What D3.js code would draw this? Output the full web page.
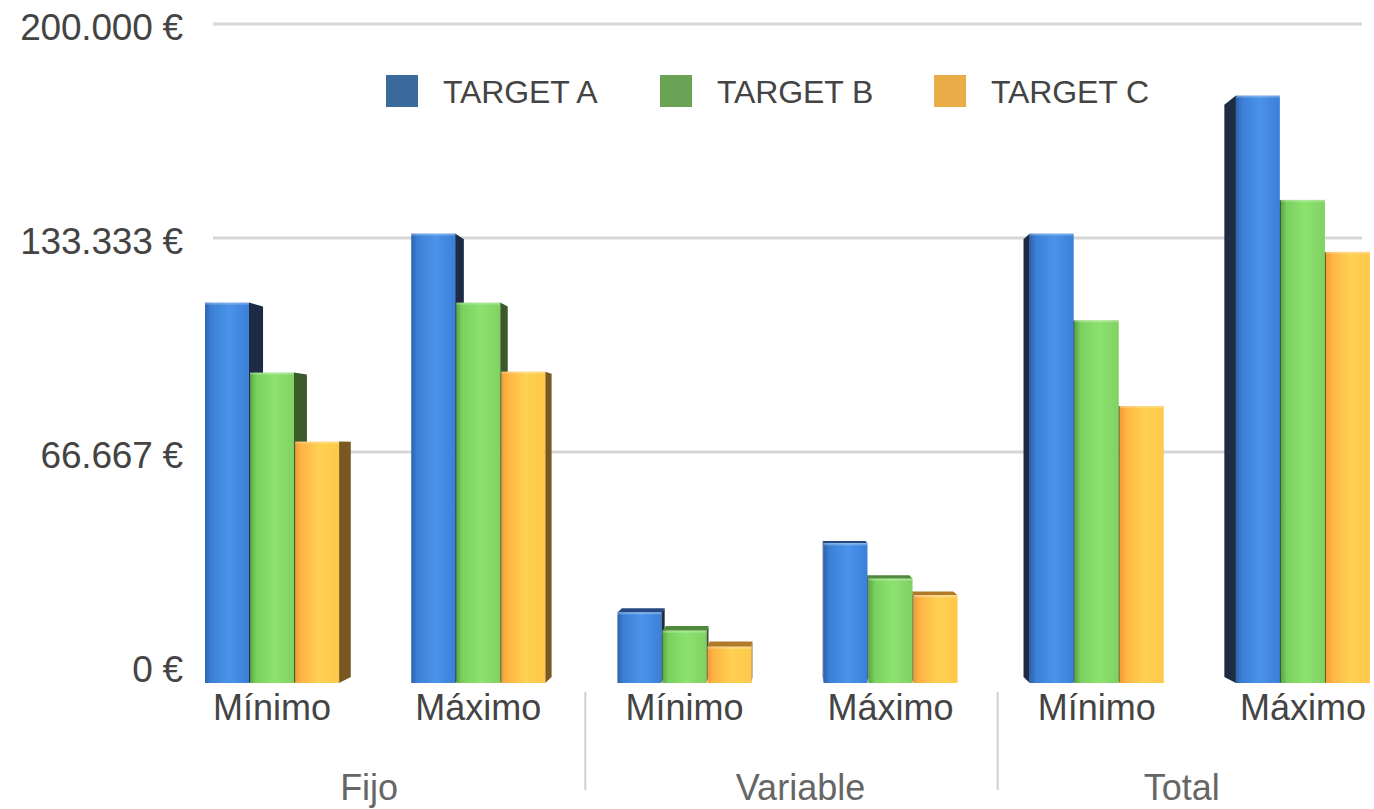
<!DOCTYPE html>
<html>
<head>
<meta charset="utf-8">
<script src="https://cdn.jsdelivr.net/npm/d3@7"></script>
<style>
  body { margin: 0; background: #fff; }
  text { font-family: "Liberation Sans", Arial, sans-serif; }
</style>
</head>
<body>
<svg id="chart"></svg>
<script>
// Dades
var groups = ["Fijo", "Variable", "Total"];
var subcats = ["Mínimo", "Máximo", "Mínimo", "Máximo", "Mínimo", "Máximo"];
var series = ["TARGET A", "TARGET B", "TARGET C"];
var targetA = [118500, 140000, 22000, 43500, 140000, 183000];
var targetB = [96700, 118500, 16300, 32500, 113000, 150500];
var targetC = [75200, 97000, 11300, 27300, 86300, 134300];
var yTicks = [0, 66667, 133333, 200000];
var yTickLabels = ["0 €", "66.667 €", "133.333 €", "200.000 €"];

var values = [targetA, targetB, targetC];

var width = 1374, height = 809;

var svg = d3.select("#chart").attr("width", width).attr("height", height);

var defs = svg.append("defs");

// Colors
var legendColors = ["#3a6a9c", "#6aa355", "#eaab48"];
var frontStops = [
  [["0%", "#2b63b0"], ["14%", "#3c80d6"], ["55%", "#4a92ea"], ["100%", "#3b80d8"]],
  [["0%", "#5aa844"], ["14%", "#7ad15f"], ["55%", "#8de26f"], ["100%", "#80d163"]],
  [["0%", "#f09c36"], ["14%", "#ffb443"], ["55%", "#ffd052"], ["100%", "#ffc848"]]
];
var sideColors = ["#1d2c44", "#3a5a2a", "#7a5822"];
var topColors = ["#244a86", "#4f8a3c", "#b07a28"];

frontStops.forEach(function(stops, i) {
  var g = defs.append("linearGradient").attr("id", "front" + i)
    .attr("x1", "0%").attr("x2", "100%").attr("y1", "0%").attr("y2", "0%");
  stops.forEach(function(s) {
    g.append("stop").attr("offset", s[0]).attr("stop-color", s[1]);
  });
});

// Escales
var x0 = d3.scaleBand().domain(d3.range(subcats.length))
  .range([170, 1405]).paddingInner(0.35).paddingOuter(0.17);
var x1 = d3.scaleBand().domain(d3.range(series.length))
  .range([0, x0.bandwidth()]).paddingInner(0.025);
var y = d3.scaleLinear().domain([0, 200000]).range([683, 41]);

var wallShift = 17; // la paret del fons queda una mica més amunt
var vp = [790, 450], depth = 0.026;

// Graella
svg.append("g").selectAll("line")
  .data(yTicks.filter(function(d) { return d > 0; }))
  .enter().append("line")
  .attr("x1", 213).attr("x2", 1362)
  .attr("y1", function(d) { return y(d) - wallShift; })
  .attr("y2", function(d) { return y(d) - wallShift; })
  .attr("stroke", "#d6d6d6").attr("stroke-width", 3);

// Etiquetes eix Y
svg.append("g").selectAll("text")
  .data(yTicks).enter().append("text")
  .attr("x", 183)
  .attr("y", function(d) { return y(d) - wallShift + 16; })
  .attr("text-anchor", "end")
  .attr("font-size", 37).attr("fill", "#444")
  .style("letter-spacing", "-0.2px")
  .text(function(d, i) { return yTickLabels[i]; });

// Barres en 3D
function back(p) {
  return [p[0] + (vp[0] - p[0]) * depth, p[1] + (vp[1] - p[1]) * depth];
}

var bars = svg.append("g");
subcats.forEach(function(sc, ci) {
  var center = x0(ci) + x0.bandwidth() / 2;
  var order = center < vp[0] ? [0, 1, 2] : [2, 1, 0];
  order.forEach(function(si) {
    var xa = x0(ci) + x1(si), xb = xa + x1.bandwidth();
    var ya = y(values[si][ci]), yb = y(0);
    var tl = [xa, ya], tr = [xb, ya], bl = [xa, yb], br = [xb, yb];
    var g = bars.append("g");
    // lateral
    var side = xb < vp[0] ? [tr, back(tr), back(br), br] : [tl, back(tl), back(bl), bl];
    g.append("polygon").attr("points", side.map(String).join(" "))
      .attr("fill", sideColors[si]);
    // tapa superior
    if (ya > vp[1]) {
      g.append("polygon").attr("points", [tl, tr, back(tr), back(tl)].map(String).join(" "))
        .attr("fill", topColors[si]);
    }
    // cara frontal
    g.append("rect").attr("x", xa).attr("y", ya)
      .attr("width", xb - xa).attr("height", yb - ya)
      .attr("fill", "url(#front" + si + ")");
    g.append("rect").attr("x", xa).attr("y", ya)
      .attr("width", xb - xa).attr("height", 2)
      .attr("fill", "#fff").attr("opacity", 0.25);
  });
});

// Etiquetes eix X
svg.append("g").selectAll("text")
  .data(subcats).enter().append("text")
  .attr("x", function(d, i) { return x0(i) + x0.bandwidth() / 2; })
  .attr("y", 720)
  .attr("text-anchor", "middle")
  .attr("font-size", 36).attr("fill", "#444")
  .text(function(d) { return d; });

var groupShift = [-6, 13, -18];
svg.append("g").selectAll("text")
  .data(groups).enter().append("text")
  .attr("x", function(d, i) { return (x0(2 * i) + x0(2 * i + 1) + x0.bandwidth()) / 2 + groupShift[i]; })
  .attr("y", 800)
  .attr("text-anchor", "middle")
  .attr("font-size", 36).attr("fill", "#666")
  .text(function(d) { return d; });

// Separadors de grup
svg.append("g").selectAll("line")
  .data([1, 2]).enter().append("line")
  .attr("x1", function(d) { return x0(2 * d) - x0.step() * x0.paddingInner() / 2 + 4; })
  .attr("x2", function(d) { return x0(2 * d) - x0.step() * x0.paddingInner() / 2 + 4; })
  .attr("y1", 692).attr("y2", 790)
  .attr("stroke", "#cfcfcf").attr("stroke-width", 2);

// Llegenda
var legend = svg.append("g").selectAll("g")
  .data(series).enter().append("g")
  .attr("transform", function(d, i) { return "translate(" + (386 + i * 274) + ",75)"; });
legend.append("rect").attr("width", 32).attr("height", 32)
  .attr("fill", function(d, i) { return legendColors[i]; });
legend.append("text").attr("x", 57).attr("y", 28)
  .attr("font-size", 32).attr("fill", "#444")
  .style("letter-spacing", "-0.1px")
  .text(function(d) { return d; });
</script>
</body>
</html>
